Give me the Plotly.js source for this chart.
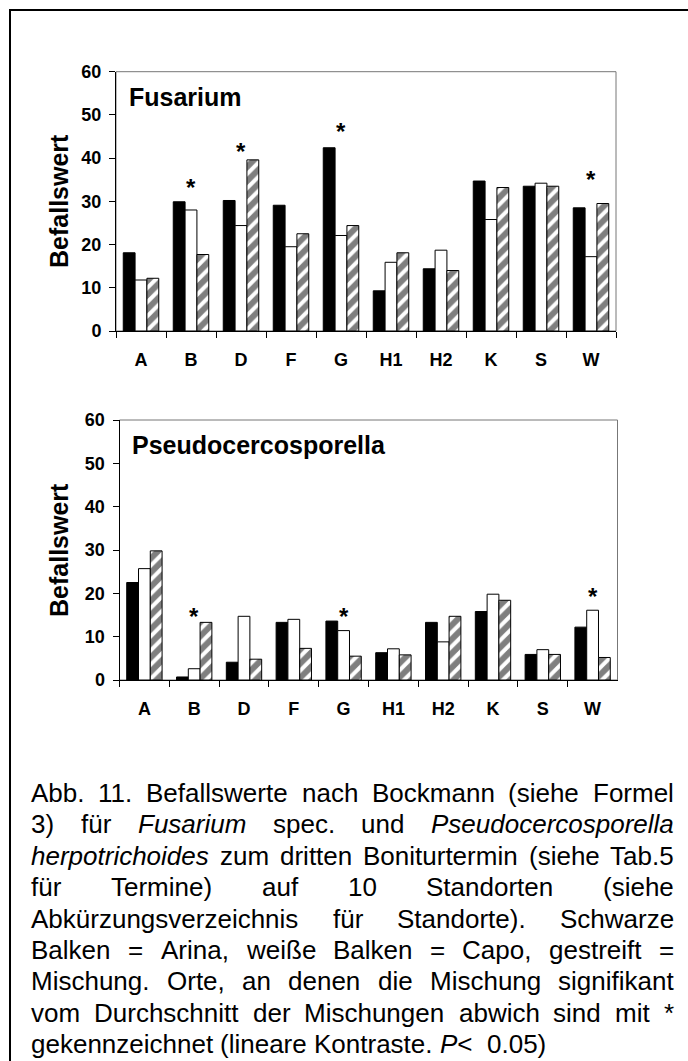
<!DOCTYPE html>
<html><head><meta charset="utf-8">
<script src="https://cdn.plot.ly/plotly-3.0.1.min.js"></script>
<style>html,body{margin:0;padding:0;background:#fff}#chart{width:688px;height:1061px}</style>
</head><body><div id="chart"></div>
<script>
// ---- data ----
const categories = ['A','B','D','F','G','H1','H2','K','S','W'];
const fusArina = [18.1, 29.9, 30.2, 29.1, 42.4, 9.3, 14.4, 34.7, 33.5, 28.5];
const fusCapo  = [11.8, 28.0, 24.4, 19.5, 22.1, 15.9, 18.7, 25.8, 34.2, 17.2];
const fusMisch = [12.2, 17.7, 39.6, 22.5, 24.4, 18.1, 14.0, 33.2, 33.5, 29.5];
const pseArina = [22.5, 0.7, 4.1, 13.3, 13.6, 6.3, 13.3, 15.8, 5.9, 12.2];
const pseCapo  = [25.7, 2.6, 14.7, 14.0, 11.4, 7.2, 8.8, 19.8, 7.0, 16.1];
const pseMisch = [29.8, 13.3, 4.8, 7.3, 5.5, 5.8, 14.7, 18.4, 5.9, 5.2];
const fusStarCats = ['B','D','G','W'];
const fusStarY = [34.3, 42.8, 47.3, 36.1];
const pseStarCats = ['B','G','W'];
const pseStarY = [15.8, 15.8, 20.4];
const panelTitles = ['Fusarium', 'Pseudocercosporella'];
const yTitle = 'Befallswert';
const captionLines = [
 'Abb. 11. Befallswerte nach Bockmann (siehe Formel',
 '3) für _Fusarium_ spec. und _Pseudocercosporella_',
 '_herpotrichoides_ zum dritten Boniturtermin (siehe Tab.5',
 'für Termine) auf 10 Standorten (siehe',
 'Abkürzungsverzeichnis für Standorte). Schwarze',
 'Balken = Arina, weiße Balken = Capo, gestreift =',
 'Mischung. Orte, an denen die Mischung signifikant',
 'vom Durchschnitt der Mischungen abwich sind mit *',
 'gekennzeichnet (lineare Kontraste. _P_<  0.05)'
];

// ---- layout helpers ----
const W = 688, H = 1061;
const px = v => v / W;
const py = v => 1 - v / H;
const FONT = 'Liberation Sans, Arial, Helvetica, sans-serif';

function bars(y, xa, ya, kind, name) {
  const t = {type:'bar', x: categories, y: y, xaxis: xa, yaxis: ya, name: name, showlegend:false,
    marker:{color: kind === 'black' ? '#000' : '#fff', line:{color:'#000', width:1}}};
  if (kind === 'hatch') {
    t.marker.pattern = {shape:'/', fgcolor:'#000', bgcolor:'#fff', size:10, solidity:0.6, fillmode:'overlay'};
  }
  return t;
}

const data = [
  bars(fusArina, 'x', 'y', 'black', 'Arina'),
  bars(fusCapo, 'x', 'y', 'white', 'Capo'),
  bars(fusMisch, 'x', 'y', 'hatch', 'Mischung'),
  bars(pseArina, 'x2', 'y2', 'black', 'Arina'),
  bars(pseCapo, 'x2', 'y2', 'white', 'Capo'),
  bars(pseMisch, 'x2', 'y2', 'hatch', 'Mischung')
];

function xax(domain, anchor) {
  return {domain: domain, anchor: anchor, type:'category', categoryorder:'array', categoryarray: categories,
    tickson:'boundaries', ticks:'outside', ticklen:6, tickwidth:1, tickcolor:'#000',
    showline:true, linecolor:'#000', linewidth:1, showgrid:false, zeroline:false,
    ticklabelstandoff: 12,
    tickfont:{family: FONT, size:18, color:'#000', weight:'bold'}};
}
function yax(domain, anchor) {
  return {domain: domain, anchor: anchor, range:[0,60], tick0:0, dtick:10, ticks:'outside', ticklen:6,
    tickwidth:1, tickcolor:'#000', showline:true, linecolor:'#000', linewidth:1, showgrid:false, zeroline:false,
    ticklabelstandoff: 4,
    tickfont:{family: FONT, size:18, color:'#000', weight:'bold'}};
}

const annotations = [];
const shapes = [];

// stars
fusStarCats.forEach((c, i) => annotations.push({xref:'x', yref:'y', x:c, y:fusStarY[i], text:'<b>*</b>',
  showarrow:false, font:{family:FONT, size:24, color:'#000'}, yshift:-5}));
pseStarCats.forEach((c, i) => annotations.push({xref:'x2', yref:'y2', x:c, y:pseStarY[i], text:'<b>*</b>',
  showarrow:false, font:{family:FONT, size:24, color:'#000'}, yshift:-5}));

// panel titles
annotations.push({xref:'paper', yref:'paper', x:px(127), y:py(97), xanchor:'left', yanchor:'middle',
  text:'<b>' + panelTitles[0] + '</b>', showarrow:false, font:{family:FONT, size:25, color:'#000'}});
annotations.push({xref:'paper', yref:'paper', x:px(130), y:py(445), xanchor:'left', yanchor:'middle',
  text:'<b>' + panelTitles[1] + '</b>', showarrow:false, font:{family:FONT, size:25, color:'#000'}});

// y titles
annotations.push({xref:'paper', yref:'paper', x:px(59), y:py(201), xanchor:'center', yanchor:'middle', textangle:-90,
  text:'<b>' + yTitle + '</b>', showarrow:false, font:{family:FONT, size:25, color:'#000'}});
annotations.push({xref:'paper', yref:'paper', x:px(59), y:py(550), xanchor:'center', yanchor:'middle', textangle:-90,
  text:'<b>' + yTitle + '</b>', showarrow:false, font:{family:FONT, size:25, color:'#000'}});

// caption, justified word by word
const CAP_SIZE = 26, CAP_LEFT = 31, CAP_RIGHT = 674, CAP_Y0 = 793, CAP_DY = 31.4;
const cv = document.createElement('canvas').getContext('2d');
const esc = s => s.replace(/&/g,'&amp;').replace(/</g,'&lt;').replace(/>/g,'&gt;');
function wordInfo(w) {
  const segs = w.split('_');
  let width = 0, html = '';
  segs.forEach((s, k) => {
    if (!s) return;
    const it = k % 2 === 1;
    cv.font = (it ? 'italic ' : '') + CAP_SIZE + 'px "Liberation Sans"';
    width += cv.measureText(s).width;
    html += it ? '<i>' + esc(s) + '</i>' : esc(s);
  });
  return {width, html};
}
cv.font = CAP_SIZE + 'px "Liberation Sans"';
const spaceW = cv.measureText(' ').width;
captionLines.forEach((line, li) => {
  const last = li === captionLines.length - 1;
  const tokens = line.split(' ');
  const y = CAP_Y0 + li * CAP_DY;
  let x = CAP_LEFT;
  if (!last) {
    const infos = tokens.map(wordInfo);
    const total = infos.reduce((a, b) => a + b.width, 0);
    const gap = (CAP_RIGHT - CAP_LEFT - total) / (infos.length - 1);
    infos.forEach(inf => {
      annotations.push({xref:'paper', yref:'paper', x:px(x), y:py(y), xanchor:'left', yanchor:'middle',
        text: inf.html, showarrow:false, borderpad:0, borderwidth:0, font:{family:FONT, size:CAP_SIZE, color:'#000'}});
      x += inf.width + gap;
    });
  } else {
    tokens.forEach(tk => {
      if (!tk) { x += spaceW; return; }
      const inf = wordInfo(tk);
      annotations.push({xref:'paper', yref:'paper', x:px(x), y:py(y), xanchor:'left', yanchor:'middle',
        text: inf.html, showarrow:false, borderpad:0, borderwidth:0, font:{family:FONT, size:CAP_SIZE, color:'#000'}});
      x += inf.width + spaceW;
    });
  }
});

// plot area borders and outer frame
shapes.push({type:'rect', xref:'x domain', yref:'y domain', x0:0, x1:1, y0:0, y1:1, line:{color:'#777', width:1}, layer:'below'});
shapes.push({type:'rect', xref:'x2 domain', yref:'y2 domain', x0:0, x1:1, y0:0, y1:1, line:{color:'#777', width:1}, layer:'below'});
shapes.push({type:'rect', xref:'paper', yref:'paper', x0:px(10), x1:1.05, y0:-0.05, y1:py(10), line:{color:'#000', width:2}});

const layout = {
  width: W, height: H, margin:{l:0, r:0, t:0, b:0}, paper_bgcolor:'#fff', plot_bgcolor:'#fff',
  barmode:'group', bargap:0.29, bargroupgap:0, showlegend:false,
  font:{family: FONT, color:'#000'},
  xaxis: xax([px(116), px(616)], 'y'),
  yaxis: yax([py(331), py(71.7)], 'x'),
  xaxis2: xax([px(119.5), px(617.5)], 'y2'),
  yaxis2: yax([py(680), py(420)], 'x2'),
  annotations: annotations, shapes: shapes
};
Plotly.newPlot('chart', data, layout, {displayModeBar:false, staticPlot:true});
</script>
</body></html>
